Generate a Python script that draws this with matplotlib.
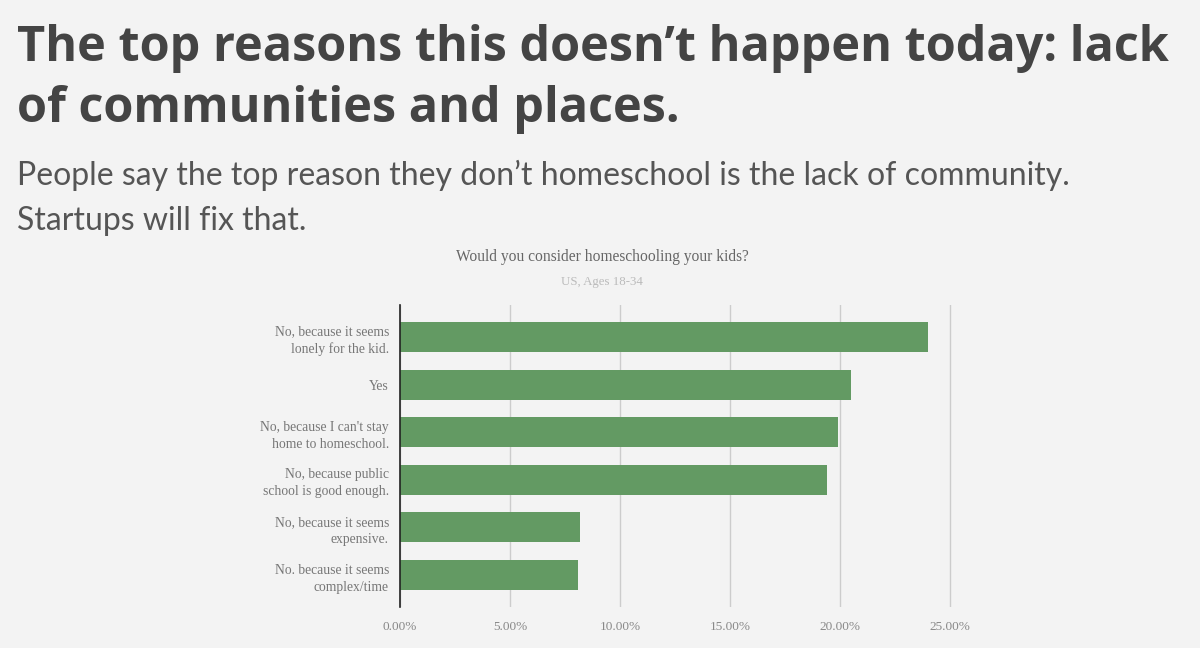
"""Homeschooling survey chart (matplotlib)."""
import matplotlib
matplotlib.use("Agg")
import matplotlib.pyplot as plt
from matplotlib.ticker import FuncFormatter

# data
reasons = [
    "No, because it seems\nlonely for the kid.",
    "Yes",
    "No, because I can't stay\nhome to homeschool.",
    "No, because public\nschool is good enough.",
    "No, because it seems\nexpensive.",
    "No. because it seems\ncomplex/time",
]
shares = [24.0, 20.5, 19.9, 19.4, 8.2, 8.1]
x_ticks = [0, 5, 10, 15, 20, 25]

BG = "#f3f3f3"
BAR = "#639a63"
SERIF = ["Liberation Serif", "DejaVu Serif"]

fig = plt.figure(figsize=(12, 6.48), dpi=100, facecolor=BG)

# headline + subtitle
fig.text(17 / 1200, 1 - 61 / 648, "The top reasons this doesn\u2019t happen today: lack",
         fontsize=35, fontweight="bold", family="Open Sans", color="#444444", va="baseline")
fig.text(17 / 1200, 1 - 122 / 648, "of communities and places.",
         fontsize=35, fontweight="bold", family="Open Sans", color="#444444", va="baseline")
fig.text(17 / 1200, 1 - 185 / 648,
         "People say the top reason they don\u2019t homeschool is the lack of community.",
         fontsize=23, family="Lato", color="#555555", va="baseline")
fig.text(17 / 1200, 1 - 230 / 648, "Startups will fix that.",
         fontsize=23, family="Lato", color="#555555", va="baseline")

# chart titles
fig.text(602 / 1200, 1 - 257 / 648, "Would you consider homeschooling your kids?",
         fontsize=11.2, family=SERIF, color="#666666", ha="center", va="center")
fig.text(602 / 1200, 1 - 282 / 648, "US, Ages 18-34",
         fontsize=9.3, family=SERIF, color="#bbbbbb", ha="center", va="center")

ax = fig.add_axes([400 / 1200, 1 - 607 / 648, 572 / 1200, 302 / 648])
ax.set_facecolor(BG)

y = list(range(len(reasons)))
ax.barh(y, shares, height=0.63, color=BAR, zorder=3)

ax.set_xlim(0, 26)
ax.set_ylim(5.672, -0.672)
ax.set_xticks(x_ticks)
ax.xaxis.set_major_formatter(FuncFormatter(lambda v, _: f"{v:.2f}%"))
ax.set_yticks(y)
ax.set_yticklabels(reasons)
ax.grid(axis="x", color="#cccccc", linewidth=1, zorder=0)
ax.tick_params(axis="both", length=0, colors="#888888")
ax.tick_params(axis="x", pad=10)
ax.tick_params(axis="y", pad=8)
for lab in ax.get_xticklabels():
    lab.set_family(SERIF)
    lab.set_fontsize(9.5)
for lab in ax.get_yticklabels():
    lab.set_family(SERIF)
    lab.set_fontsize(9.8)
    lab.set_color("#777777")
    lab.set_multialignment("right")
    lab.set_linespacing(1.4)

for s in ["top", "right", "bottom"]:
    ax.spines[s].set_visible(False)
ax.spines["left"].set_color("#222222")
ax.spines["left"].set_linewidth(1.2)
ax.spines["left"].set_zorder(4)

fig.savefig("out.png", dpi=100, facecolor=BG)
plt.close(fig)
